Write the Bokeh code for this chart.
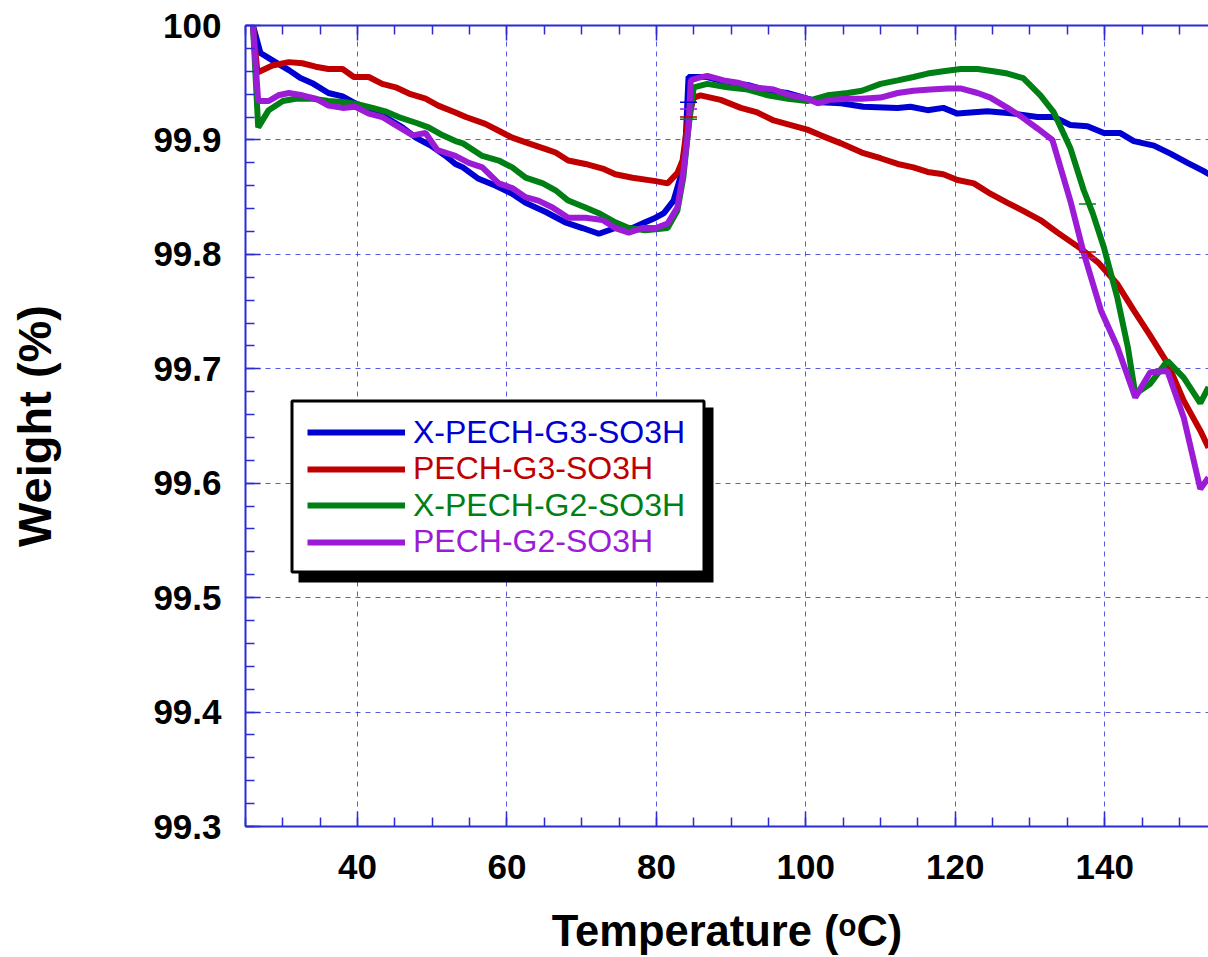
from bokeh.plotting import figure
from bokeh.models import FixedTicker, LinearAxis, Legend, LegendItem, BoxAnnotation, Range1d
from bokeh.embed import file_html
from bokeh.resources import INLINE

# ---------------- data ----------------
series_names = ["X-PECH-G3-SO3H", "PECH-G3-SO3H", "X-PECH-G2-SO3H", "PECH-G2-SO3H"]

blue_x = [26.0, 27.0, 29.0, 30.8, 32.4, 34.1, 36.1, 38.0, 39.7, 42.0, 43.7, 46.0, 47.8, 49.8, 51.8,
          53.1, 54.1, 56.2, 58.5, 60.7, 62.5, 65.2, 67.8, 70.1, 72.3, 74.5, 76.8, 78.5, 79.9, 81.0,
          82.3, 83.2, 83.9, 84.3, 86.8, 89.5, 92.2, 94.9, 97.6, 100.2, 102.0, 104.7, 107.7, 112.3,
          114.0, 116.3, 118.4, 120.3, 124.3, 127.8, 131.0, 133.2, 135.4, 137.7, 139.9, 142.1, 143.9,
          146.6, 148.8, 151.1, 153.2, 154.5]
blue_y = [100.0, 99.976, 99.968, 99.961, 99.954, 99.949, 99.941, 99.938, 99.932, 99.926, 99.920,
          99.911, 99.902, 99.895, 99.886, 99.879, 99.876, 99.866, 99.860, 99.853, 99.845, 99.837,
          99.828, 99.823, 99.818, 99.823, 99.823, 99.828, 99.832, 99.836, 99.847, 99.867, 99.897,
          99.955, 99.955, 99.950, 99.948, 99.943, 99.941, 99.936, 99.933, 99.932, 99.929, 99.928,
          99.929, 99.926, 99.928, 99.923, 99.925, 99.923, 99.920, 99.920, 99.913, 99.912, 99.906,
          99.906, 99.899, 99.895, 99.888, 99.880, 99.873, 99.868]

red_x = [26.0, 26.6, 28.6, 30.8, 32.6, 34.4, 36.1, 38.0, 39.5, 41.5, 43.3, 45.1, 47.1, 49.1, 50.8,
         53.1, 54.5, 57.1, 58.9, 60.7, 62.9, 65.2, 66.5, 68.2, 70.5, 72.8, 74.5, 76.8, 79.9, 81.5,
         82.8, 83.5, 84.2, 85.0, 85.9, 88.6, 91.3, 93.5, 95.7, 98.0, 100.2, 102.0, 104.7, 107.5,
         110.0, 112.3, 114.4, 116.3, 118.4, 120.3, 122.5, 124.7, 127.0, 129.1, 131.4, 133.7, 136.8,
         139.1, 141.7, 143.9, 146.1, 148.4, 150.6, 152.8, 153.9]
red_y = [100.0, 99.959, 99.965, 99.968, 99.967, 99.964, 99.962, 99.962, 99.955, 99.955, 99.949,
         99.946, 99.940, 99.936, 99.930, 99.924, 99.920, 99.914, 99.908, 99.902, 99.897, 99.892,
         99.889, 99.882, 99.879, 99.875, 99.870, 99.867, 99.864, 99.862, 99.871, 99.882, 99.917,
         99.937, 99.939, 99.935, 99.928, 99.924, 99.917, 99.913, 99.909, 99.904, 99.897, 99.889,
         99.884, 99.879, 99.876, 99.872, 99.870, 99.865, 99.862, 99.853, 99.845, 99.838, 99.830,
         99.819, 99.805, 99.793, 99.774, 99.751, 99.729, 99.705, 99.672, 99.646, 99.631]

green_x = [26.0, 26.7, 28.1, 30.0, 31.7, 34.0, 36.1, 38.4, 40.1, 42.0, 43.7, 45.5, 47.8, 49.5, 51.4,
           53.1, 54.1, 56.7, 58.9, 60.7, 62.5, 64.8, 66.5, 68.2, 70.5, 72.3, 74.5, 76.3, 78.5, 79.9,
           81.5, 82.8, 83.6, 84.3, 85.0, 86.8, 89.5, 92.2, 94.9, 97.6, 100.2, 102.9, 105.6, 107.5,
           110.0, 112.3, 114.4, 116.3, 118.4, 120.7, 123.0, 125.1, 127.0, 129.1, 131.4, 133.2, 135.4,
           137.2, 138.4, 139.9, 141.7, 143.1, 144.1, 146.1, 148.4, 150.6, 152.8, 153.9]
green_y = [100.0, 99.911, 99.926, 99.934, 99.936, 99.936, 99.934, 99.933, 99.931, 99.928, 99.925,
           99.920, 99.915, 99.911, 99.904, 99.899, 99.897, 99.886, 99.882, 99.876, 99.867, 99.862,
           99.856, 99.847, 99.841, 99.836, 99.828, 99.823, 99.821, 99.822, 99.823, 99.838, 99.867,
           99.911, 99.946, 99.949, 99.946, 99.944, 99.939, 99.936, 99.934, 99.939, 99.941, 99.943,
           99.949, 99.952, 99.955, 99.958, 99.960, 99.962, 99.962, 99.960, 99.958, 99.954, 99.939,
           99.924, 99.893, 99.856, 99.836, 99.806, 99.762, 99.719, 99.678, 99.687, 99.707, 99.692,
           99.670, 99.684]

purple_x = [26.0, 26.7, 28.1, 29.4, 30.8, 32.6, 34.4, 36.1, 38.0, 39.7, 41.5, 43.3, 45.1, 47.4, 49.1,
            50.7, 53.1, 54.9, 56.7, 58.9, 60.7, 62.5, 64.2, 66.1, 68.2, 70.5, 72.8, 74.5, 76.3, 78.1,
            79.9, 81.5, 82.8, 83.6, 84.3, 84.6, 85.5, 86.8, 89.0, 90.9, 93.0, 95.7, 98.0, 100.2,
            101.6, 103.3, 105.6, 107.5, 110.0, 112.3, 114.4, 116.7, 119.0, 120.7, 123.0, 124.7,
            127.0, 128.7, 131.0, 133.0, 135.4, 137.2, 139.5, 141.7, 144.1, 146.1, 148.4, 150.6,
            152.8, 153.9]
purple_y = [100.0, 99.934, 99.934, 99.939, 99.941, 99.939, 99.936, 99.930, 99.928, 99.929, 99.923,
            99.920, 99.913, 99.904, 99.906, 99.891, 99.886, 99.880, 99.876, 99.862, 99.858, 99.850,
            99.847, 99.841, 99.832, 99.832, 99.830, 99.823, 99.819, 99.823, 99.823, 99.827, 99.841,
            99.871, 99.911, 99.952, 99.954, 99.956, 99.952, 99.950, 99.946, 99.944, 99.939, 99.936,
            99.932, 99.935, 99.936, 99.936, 99.937, 99.941, 99.943, 99.944, 99.945, 99.945, 99.941,
            99.937, 99.928, 99.921, 99.910, 99.900, 99.847, 99.801, 99.751, 99.719, 99.675, 99.697,
            99.698, 99.657, 99.595, 99.605]

# small step markers drawn by the instrument software
mark_x = [84.3, 84.3, 84.3, 84.3, 137.7, 137.7, 137.7]
mark_y = [99.933, 99.927, 99.920, 99.918, 99.844, 99.802, 99.797]
mark_series = [0, 3, 1, 2, 2, 1, 3]

x_ticks = [40, 60, 80, 100, 120, 140]
x_labels = ["40", "60", "80", "100", "120", "140"]
y_ticks = [99.3, 99.4, 99.5, 99.6, 99.7, 99.8, 99.9, 100.0]
y_labels = ["99.3", "99.4", "99.5", "99.6", "99.7", "99.8", "99.9", "100"]
x_title = "Temperature (ᵒC)"
y_title = "Weight (%)"

# ---------------- styling ----------------
COLORS = ["#0000d2", "#c00000", "#008014", "#9b1bd7"]
AX = "#2b2bd6"
GRID = "#3c3cdc"
FONT = "Liberation Sans"

p = figure(width=1208, height=957, output_backend="svg", toolbar_location=None,
           x_range=Range1d(25, 153.9), y_range=Range1d(99.3, 100.0),
           min_border_left=245, min_border_top=25, min_border_right=0, min_border_bottom=131,
           x_axis_label=x_title, y_axis_label=y_title)
p.outline_line_color = None
p.background_fill_color = "white"
p.border_fill_color = "white"

x_minor = [25 + 5 * i for i in range(27)]
y_minor = [round(99.3 + 0.02 * i, 2) for i in range(36)]
xt = FixedTicker(ticks=x_ticks, minor_ticks=x_minor)
yt = FixedTicker(ticks=y_ticks, minor_ticks=y_minor)


def style_axis(ax):
    ax.axis_line_color = AX
    ax.axis_line_width = 2
    ax.major_tick_line_color = AX
    ax.minor_tick_line_color = AX
    ax.major_tick_line_width = 1.5
    ax.minor_tick_line_width = 1.5
    ax.major_tick_in = 15
    ax.major_tick_out = 0
    ax.minor_tick_in = 9
    ax.minor_tick_out = 0
    ax.major_label_text_font = FONT
    ax.major_label_text_font_style = "bold"
    ax.major_label_text_font_size = "35px"
    ax.major_label_text_color = "black"
    ax.axis_label_text_font = FONT
    ax.axis_label_text_font_style = "bold"
    ax.axis_label_text_color = "black"


xa = p.xaxis[0]
xa.ticker = xt
xa.major_label_overrides = {t: l for t, l in zip(x_ticks, x_labels)}
style_axis(xa)
xa.major_label_standoff = 28
xa.axis_label_text_font_size = "43.5px"
xa.axis_label_standoff = 25

ya = p.yaxis[0]
ya.ticker = yt
ya.major_label_overrides = {t: l for t, l in zip(y_ticks, y_labels)}
style_axis(ya)
ya.major_label_standoff = 24
ya.axis_label_text_font_size = "47px"
ya.axis_label_standoff = 89

top = LinearAxis(ticker=xt)
style_axis(top)
top.major_label_overrides = {t: "" for t in x_ticks}
top.major_label_text_font_size = "10px"
top.major_label_standoff = 0
p.add_layout(top, "above")

for g in (p.xgrid[0], p.ygrid[0]):
    g.grid_line_color = GRID
    g.grid_line_alpha = 0.85
    g.grid_line_dash = "5 5"
    g.grid_line_width = 1
p.xgrid[0].ticker = xt
p.ygrid[0].ticker = yt

renderers = []
for xs, ys, c in [(blue_x, blue_y, COLORS[0]), (red_x, red_y, COLORS[1]),
                  (green_x, green_y, COLORS[2]), (purple_x, purple_y, COLORS[3])]:
    renderers.append(p.line(xs, ys, line_color=c, line_width=6))

p.scatter(x=mark_x, y=mark_y, marker="dash", size=17, line_width=1.5,
          line_color=[COLORS[i] for i in mark_series])

# legend box with drop shadow (screen units, relative to frame)
SU = dict(left_units="screen", right_units="screen", top_units="screen", bottom_units="screen")
shadow = BoxAnnotation(left=53, right=468, top=419, bottom=244, **SU,
                       fill_color="black", fill_alpha=1.0, line_color=None)
box = BoxAnnotation(left=46.5, right=458.5, top=425.5, bottom=254.5, **SU,
                    fill_color="white", fill_alpha=1.0, line_color="black", line_alpha=1.0,
                    line_width=3, line_dash="solid")
p.add_layout(shadow)
p.add_layout(box)

for i, (name, r, c) in enumerate(zip(series_names, renderers, COLORS)):
    lg = Legend(items=[LegendItem(label=name, renderers=[r])],
                location=(62, 374 - 36.5 * i),
                padding=0, margin=0, spacing=0,
                border_line_color=None, background_fill_alpha=0,
                label_text_font=FONT, label_text_font_size="32px", label_text_color=c,
                glyph_width=98, glyph_height=40, label_height=40, label_standoff=8)
    p.add_layout(lg)

open("out.html", "w").write(file_html(p, INLINE))
